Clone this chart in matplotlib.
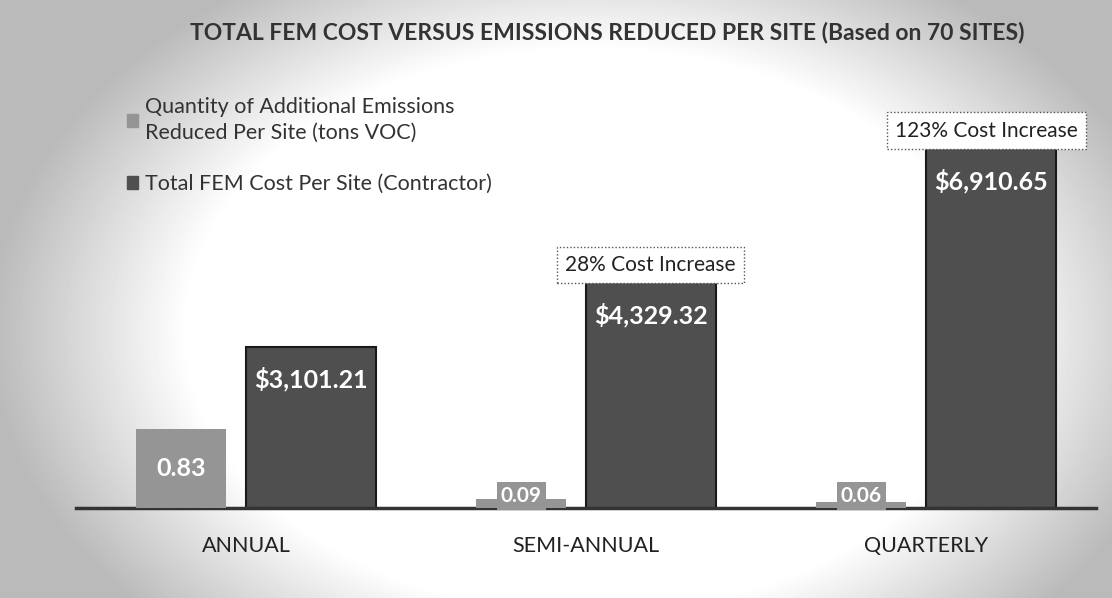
"""FEM cost vs emissions reduced per site — bar chart (two scales)."""
import matplotlib
matplotlib.use("Agg")
import matplotlib.pyplot as plt
from matplotlib.patches import Patch
import numpy as np

plt.rcParams["font.family"] = ["Lato", "DejaVu Sans"]

categories = ["ANNUAL", "SEMI-ANNUAL", "QUARTERLY"]
emissions = [0.83, 0.09, 0.06]          # tons VOC per site
cost = [3101.21, 4329.32, 6910.65]      # $ per site
cost_labels = ["$3,101.21", "$4,329.32", "$6,910.65"]
emis_labels = ["0.83", "0.09", "0.06"]
increase_notes = [None, "28% Cost Increase", "123% Cost Increase"]

EM_COL = "#959595"
COST_COL = "#4f4f4f"

fig = plt.figure(figsize=(11.12, 5.98), dpi=100)

# radial background: white centre fading to grey at the edges
bg = fig.add_axes([0, 0, 1, 1], zorder=-10)
yy, xx = np.mgrid[0:598, 0:1112]
r = np.sqrt(((xx - 590) / 560.0) ** 2 + ((yy - 330) / 390.0) ** 2)
shade = 1 - 0.27 * np.clip((r - 0.72) / 0.35, 0, 1)
bg.imshow(shade, cmap="gray", vmin=0, vmax=1, aspect="auto")
bg.axis("off")

ax = fig.add_axes([76 / 1112, 90 / 598, 1020 / 1112, 416 / 598])
ax.set_facecolor("none")
ax2 = ax.twinx()

x = np.arange(len(categories))
w_em, w_cost, off = 0.265, 0.382, 0.19

ax2.bar(x - off, emissions, w_em, color=EM_COL, zorder=2)
ax.bar(x + off, cost, w_cost, color=COST_COL, edgecolor="#1a1a1a", lw=1.5, zorder=2)

ax.set_xlim(-0.5, 2.5)
ax.set_ylim(0, 8000)
ax2.set_ylim(0, 4.38)

for a in (ax, ax2):
    for s in ("top", "left", "right"):
        a.spines[s].set_visible(False)
    a.set_yticks([])
ax2.spines["bottom"].set_visible(False)
ax.spines["bottom"].set_color("#333333")
ax.spines["bottom"].set_linewidth(2.5)
ax.spines["bottom"].set_zorder(5)

ax.set_xticks(x)
ax.set_xticklabels(categories, fontsize=15.5, color="#222222")
ax.tick_params(axis="x", length=0, pad=20)

# value labels
for i in range(len(categories)):
    ax.annotate(cost_labels[i], (x[i] + off, cost[i]), xytext=(0, -32),
                textcoords="offset pixels", ha="center", va="center",
                color="white", fontsize=18, fontweight="bold")
    if i == 0:
        ax2.text(x[i] - off, emissions[i] / 2, emis_labels[i], ha="center", va="center",
                 color="white", fontsize=18, fontweight="bold")
    else:
        ax2.annotate(emis_labels[i], (x[i] - off, 0), xytext=(0, 12), textcoords="offset pixels",
                     ha="center", va="center", color="white", fontsize=15, fontweight="bold",
                     bbox=dict(boxstyle="square,pad=0.2", fc=EM_COL, ec="none"))
    if increase_notes[i]:
        ax.annotate(increase_notes[i], (x[i] + off, cost[i]), xytext=(-4 * (i == 2), 18),
                    textcoords="offset pixels", ha="center", va="center",
                    fontsize=15, color="#222222",
                    bbox=dict(boxstyle="square,pad=0.4", fc="white", ec="#555555",
                              ls=(0, (1, 1.5)), lw=1))

fig.text(0.546, 0.945, "TOTAL FEM COST VERSUS EMISSIONS REDUCED PER SITE (Based on 70 SITES)",
         ha="center", va="center", fontsize=16.5, fontweight="bold", color="#333333")

handles = [Patch(color=EM_COL), Patch(color=COST_COL)]
fig.legend(handles, ["Quantity of Additional Emissions\nReduced Per Site (tons VOC)",
                     "Total FEM Cost Per Site (Contractor)"],
           loc="upper left", bbox_to_anchor=(108 / 1112, 1 - 78 / 598), frameon=False,
           fontsize=15.5, handlelength=0.5, handleheight=0.5, handletextpad=0.3,
           labelspacing=1.45, labelcolor="#333333")
for t in fig.legends[0].get_texts():
    t.set_linespacing(1.35)

fig.savefig("out.png", dpi=100)
